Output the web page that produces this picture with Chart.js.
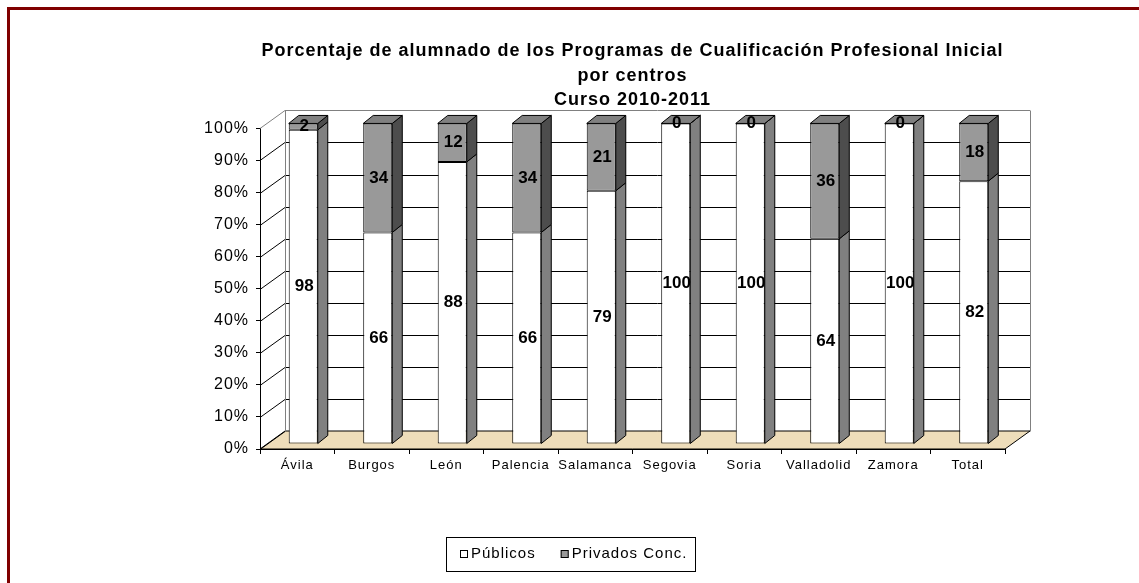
<!DOCTYPE html>
<html>
<head>
<meta charset="utf-8">
<title>Alumnado PCPI por centros</title>
<script src="https://cdn.jsdelivr.net/npm/chart.js@4.4.0/dist/chart.umd.min.js"></script>
<style>
    body { margin: 0; background: #fff; }
</style>
</head>
<body>
<canvas id="grafico" width="1139" height="583"></canvas>
<script>
// Datos (porcentajes)
const provincias = ['Ávila', 'Burgos', 'León', 'Palencia', 'Salamanca', 'Segovia', 'Soria', 'Valladolid', 'Zamora', 'Total'];
const publicos = [98, 66, 88, 66, 79, 100, 100, 64, 100, 82];
const privados = [2, 34, 12, 34, 21, 0, 0, 36, 0, 18];
const titulo = [
    'Porcentaje de alumnado de los Programas de Cualificación Profesional Inicial',
    'por centros',
    'Curso 2010-2011'
];
const pasoY = 10;
const maxY = 100;

const FUENTE = '"Liberation Sans", Arial, sans-serif';

// desplazamientos del efecto 3D
const fondo = { dx: 25, dy: -18 };     // pared del fondo
const barra = { dx: 6, dy: -5 };       // plano frontal de las barras
const prof = { dx: 10, dy: -8 };       // profundidad de cada barra

function poligono(ctx, pts, relleno) {
    ctx.beginPath();
    ctx.moveTo(pts[0][0], pts[0][1]);
    for (let i = 1; i < pts.length; i++) ctx.lineTo(pts[i][0], pts[i][1]);
    ctx.closePath();
    if (relleno) {
        ctx.fillStyle = relleno;
        ctx.fill();
    }
    ctx.stroke();
}

const efecto3d = {
    id: 'efecto3d',
    beforeDraw(chart) {
        const ctx = chart.ctx;
        ctx.letterSpacing = '1px';
        // marco granate
        ctx.save();
        ctx.fillStyle = '#800000';
        ctx.fillRect(7, 7, chart.width - 7, 3);
        ctx.fillRect(7, 7, 3, chart.height - 7);
        ctx.restore();
    },
    beforeDatasetsDraw(chart) {
        const ctx = chart.ctx;
        const a = chart.chartArea;
        const y = chart.scales.y;
        ctx.save();
        ctx.lineWidth = 1;

        // suelo
        ctx.strokeStyle = '#000';
        poligono(ctx, [
            [a.left, a.bottom], [a.right, a.bottom],
            [a.right + fondo.dx, a.bottom + fondo.dy], [a.left + fondo.dx, a.bottom + fondo.dy]
        ], '#EEDDBA');

        // rejilla: pared lateral y pared del fondo
        y.ticks.forEach(t => {
            const py = Math.round(y.getPixelForValue(t.value)) + 0.5;
            ctx.strokeStyle = t.value === maxY ? '#808080' : '#000';
            ctx.beginPath();
            ctx.moveTo(a.left, py);
            ctx.lineTo(a.left + fondo.dx, py + fondo.dy);
            if (t.value !== 0) ctx.lineTo(a.right + fondo.dx, py + fondo.dy);
            ctx.stroke();
        });

        // bordes de la pared del fondo
        const top = Math.round(y.getPixelForValue(maxY)) + 0.5 + fondo.dy;
        const bot = Math.round(y.getPixelForValue(0)) + 0.5 + fondo.dy;
        ctx.strokeStyle = '#808080';
        ctx.beginPath();
        ctx.moveTo(a.left + fondo.dx + 0.5, bot);
        ctx.lineTo(a.left + fondo.dx + 0.5, top);
        ctx.moveTo(a.right + fondo.dx + 0.5, top);
        ctx.lineTo(a.right + fondo.dx + 0.5, bot);
        ctx.stroke();
        ctx.restore();

        // las barras se dibujan algo metidas hacia el fondo
        ctx.save();
        ctx.translate(barra.dx, barra.dy);
    },
    afterDatasetsDraw(chart) {
        const ctx = chart.ctx;
        const n = chart.data.datasets.length;
        const laterales = ['#808080', '#4D4D4D'];
        ctx.lineWidth = 1;
        ctx.strokeStyle = '#000';

        for (let d = 0; d < n; d++) {
            const meta = chart.getDatasetMeta(d);
            meta.data.forEach((el) => {
                const { x, y, base, width } = el.getProps(['x', 'y', 'base', 'width'], true);
                const der = x + width / 2;
                const izq = x - width / 2;
                // cara lateral
                poligono(ctx, [[der, y], [der + prof.dx, y + prof.dy], [der + prof.dx, base + prof.dy], [der, base]], laterales[d]);
                // cara superior
                if (d === n - 1) {
                    poligono(ctx, [[izq, y], [izq + prof.dx, y + prof.dy], [der + prof.dx, y + prof.dy], [der, y]], '#808080');
                }
            });
        }

        // etiquetas de valores
        ctx.letterSpacing = '0px';
        ctx.font = 'bold 17px ' + FUENTE;
        ctx.fillStyle = '#000';
        ctx.textAlign = 'center';
        ctx.textBaseline = 'middle';
        for (let d = 0; d < n; d++) {
            const meta = chart.getDatasetMeta(d);
            meta.data.forEach((el, i) => {
                const { x, y, base } = el.getProps(['x', 'y', 'base'], true);
                ctx.fillText(String(chart.data.datasets[d].data[i]), x + 1, (y + base) / 2);
            });
        }
        ctx.letterSpacing = '1px';
        ctx.restore();
    }
};

// leyenda con recuadro
const leyenda = {
    id: 'leyenda',
    afterDraw(chart) {
        const ctx = chart.ctx;
        ctx.save();
        ctx.font = '15px ' + FUENTE;
        ctx.letterSpacing = '1px';
        const cuadro = 8;
        const sep = 25;
        const items = chart.data.datasets.map(ds => ({
            texto: ds.label,
            color: ds.backgroundColor,
            ancho: cuadro + 3 + ctx.measureText(ds.label).width
        }));
        const total = items.reduce((s, it) => s + it.ancho, 0) + sep * (items.length - 1);
        let x = Math.round(chart.width / 2 - total / 2) + 4;
        const yc = 554;

        ctx.strokeStyle = '#000';
        ctx.lineWidth = 1;
        ctx.strokeRect(x - 13.5, 537.5, Math.round(total) + 22, 34);

        ctx.textBaseline = 'middle';
        ctx.textAlign = 'left';
        items.forEach(it => {
            ctx.fillStyle = it.color;
            ctx.fillRect(x, yc - 4, cuadro, cuadro);
            ctx.strokeRect(x + 0.5, yc - 3.5, cuadro - 1, cuadro - 1);
            ctx.fillStyle = '#000';
            ctx.fillText(it.texto, x + cuadro + 3, yc);
            x += it.ancho + sep;
        });
        ctx.restore();
    }
};

const ctx = document.getElementById('grafico').getContext('2d');
const grafico = new Chart(ctx, {
    type: 'bar',
    data: {
        labels: provincias,
        datasets: [{
            label: 'Públicos',
            data: publicos,
            backgroundColor: '#FFFFFF',
            borderColor: '#000000',
            borderWidth: 1,
            borderSkipped: false
        }, {
            label: 'Privados Conc.',
            data: privados,
            backgroundColor: '#999999',
            borderColor: '#000000',
            borderWidth: 1,
            borderSkipped: false
        }]
    },
    options: {
        responsive: false,
        devicePixelRatio: 1,
        animation: false,
        layout: {
            padding: { left: 135, right: 134, top: 10, bottom: 104 }
        },
        datasets: {
            bar: { categoryPercentage: 1, barPercentage: 0.39, clip: false }
        },
        plugins: {
            legend: { display: false },
            tooltip: { enabled: false },
            title: {
                display: true,
                text: titulo,
                fullSize: false,
                color: '#000',
                font: { family: FUENTE, size: 18, weight: 'bold', lineHeight: 1.36 },
                padding: { top: 29, bottom: 16 }
            }
        },
        scales: {
            x: {
                stacked: true,
                grid: { drawOnChartArea: false, drawTicks: true, tickLength: 5, color: '#000', offset: true },
                border: { display: true, color: '#000' },
                ticks: { color: '#000', font: { family: FUENTE, size: 13 }, padding: 4, maxRotation: 0, autoSkip: false },
                afterFit(scale) { scale.height = 30; }
            },
            y: {
                stacked: true,
                min: 0,
                max: maxY,
                grid: { drawOnChartArea: false, drawTicks: true, tickLength: 4, color: '#000' },
                border: { display: true, color: '#000' },
                ticks: {
                    stepSize: pasoY,
                    color: '#000',
                    padding: 7,
                    font: { family: FUENTE, size: 16 },
                    callback: (v) => v + '%'
                },
                afterFit(scale) { scale.width = 125; }
            }
        }
    },
    plugins: [efecto3d, leyenda]
});
</script>
</body>
</html>
